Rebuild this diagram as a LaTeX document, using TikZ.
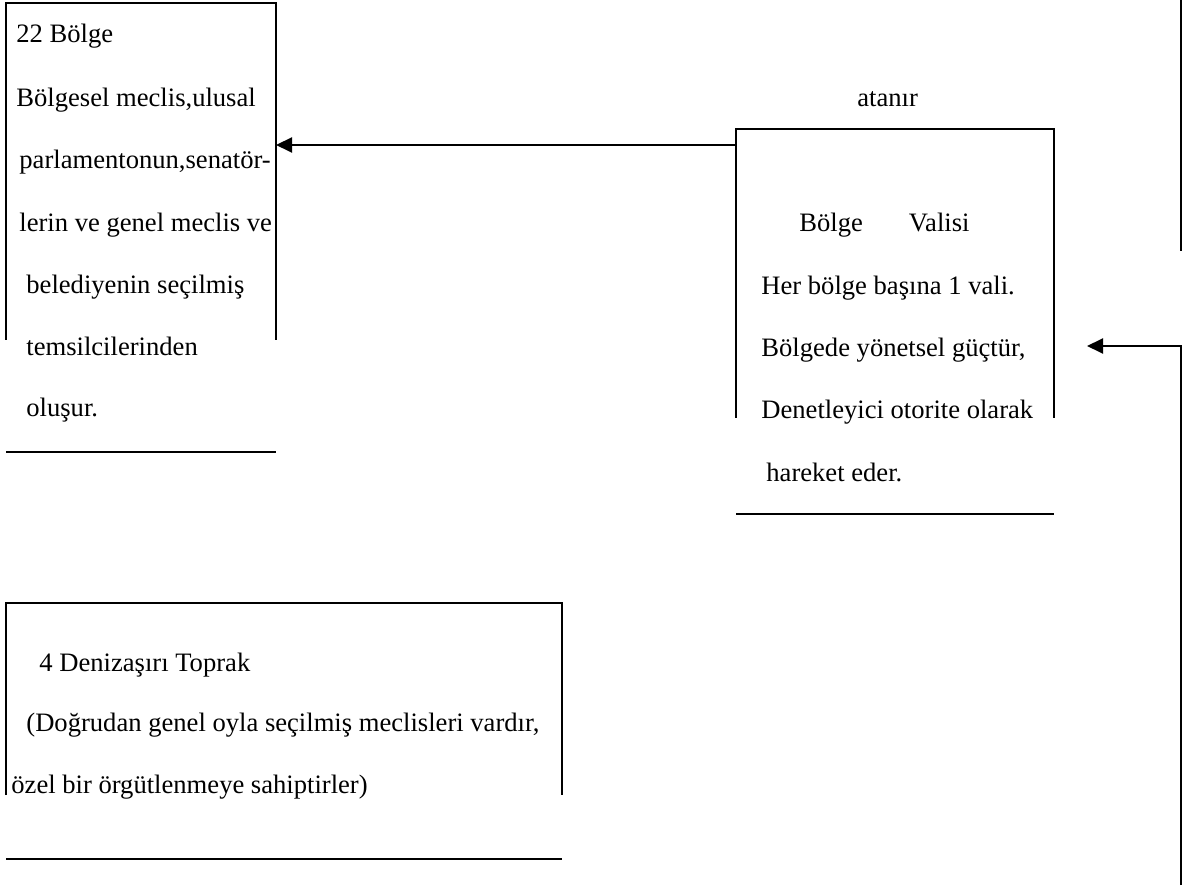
\documentclass[tikz,border=0pt]{standalone}
\usepackage{fontspec}
\setmainfont{Liberation Serif}
\usetikzlibrary{arrows.meta, positioning}
\tikzstyle{arrow} = [line width=1pt, -{Triangle[length=8pt,width=7.5pt]}]
\tikzstyle{kutu} = [line width=1pt]
\tikzstyle{satir} = [anchor=base west, inner sep=0pt, font=\fontsize{13.3}{16}\selectfont]

\begin{document}
\begin{tikzpicture}[x=0.5pt, y=-0.5pt]
  \useasboundingbox (0,0) rectangle (1197,886);

  % 22 Bolge
  \draw[kutu] (6,340) -- (6,3) -- (276,3) -- (276,340);
  \draw[kutu] (6,452) -- (276,452);
  \node[satir] (bolge1) at (16,43)  {22 Bölge};
  \node[satir] (bolge2) at (16,107) {Bölgesel meclis,ulusal};
  \node[satir] (bolge3) at (19,169) {parlamentonun,senatör-};
  \node[satir] (bolge4) at (19,232) {lerin ve genel meclis ve};
  \node[satir] (bolge5) at (26,294) {belediyenin seçilmiş};
  \node[satir] (bolge6) at (26,356) {temsilcilerinden};
  \node[satir] (bolge7) at (26,417) {oluşur.};

  % Bolge Valisi
  \draw[kutu] (736,418) -- (736,129) -- (1054,129) -- (1054,418);
  \draw[kutu] (736,514) -- (1054,514);
  \node[satir] (atanir) at (857,107) {atanır};
  \node[satir] (vali1) at (799,232) {Bölge\hspace{23pt}Valisi};
  \node[satir] (vali2) at (761,295) {Her bölge başına 1 vali.};
  \node[satir] (vali3) at (761,357) {Bölgede yönetsel güçtür,};
  \node[satir] (vali4) at (761,419) {Denetleyici otorite olarak};
  \node[satir] (vali5) at (766,482) {hareket eder.};

  % 4 Denizasiri Toprak
  \draw[kutu] (6,795) -- (6,603) -- (562,603) -- (562,795);
  \draw[kutu] (6,859) -- (562,859);
  \node[satir] (toprak1) at (39,671) {4 Denizaşırı Toprak};
  \node[satir] (toprak2) at (26,731) {(Doğrudan genel oyla seçilmiş meclisleri vardır,};
  \node[satir] (toprak3) at (11,793) {özel bir örgütlenmeye sahiptirler)};

  % Arrows
  \coordinate (bolgesag) at (276,145);
  \coordinate (valisol) at (736,145);
  \coordinate (valisag) at (1087,346);
  \coordinate (sagust) at (1181,0);
  \coordinate (sagorta) at (1181,251);
  \coordinate (sagalt) at (1181,885);
  \draw[arrow] (valisol) -- (bolgesag);
  \draw[kutu] (sagust) -- (sagorta);
  \draw[arrow] (sagalt) |- (valisag);
\end{tikzpicture}
\end{document}
